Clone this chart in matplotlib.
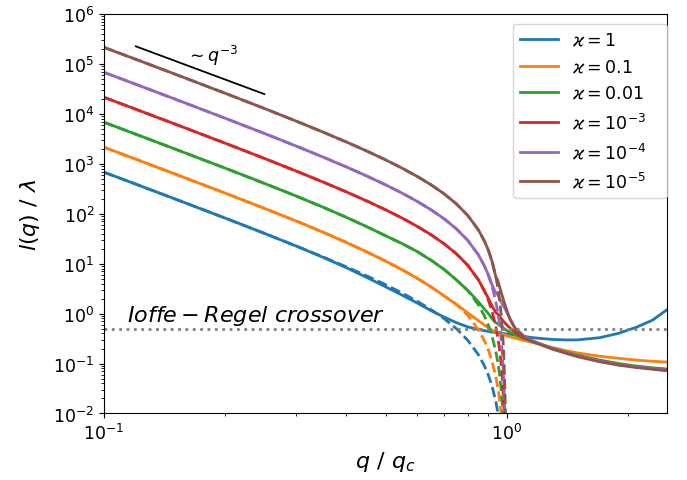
import matplotlib
matplotlib.use("Agg")
import matplotlib.pyplot as plt

# wavevector grid q / q_c for the full solution
q = [0.10, 0.12, 0.15, 0.20, 0.25, 0.30, 0.35, 0.40, 0.45, 0.50,
     0.55, 0.60, 0.65, 0.70, 0.75, 0.80, 0.85, 0.88, 0.90, 0.92,
     0.94, 0.95, 0.96, 0.97, 0.98, 0.99, 1.00, 1.02, 1.05, 1.10,
     1.15, 1.20, 1.30, 1.40, 1.50, 1.70, 1.90, 2.10, 2.30, 2.50]

# mean free path l(q)/lambda, full solution
l_k1 = [678.6, 390.7, 198.0, 81.7, 40.6, 22.5, 13.37, 8.28, 5.26, 3.45,
        2.34, 1.622, 1.135, 0.849, 0.658, 0.543, 0.481, 0.455, 0.441, 0.427,
        0.416, 0.413, 0.408, 0.404, 0.400, 0.395, 0.391, 0.384, 0.372, 0.351,
        0.333, 0.321, 0.304, 0.297, 0.298, 0.329, 0.405, 0.535, 0.738, 1.197]
l_k01 = [2146, 1235.6, 625.9, 258.4, 128.5, 71.6, 42.6, 26.55, 17.10, 11.27,
         7.55, 5.07, 3.39, 2.249, 1.521, 1.040, 0.724, 0.592, 0.525, 0.466,
         0.427, 0.419, 0.406, 0.394, 0.382, 0.372, 0.361, 0.344, 0.322, 0.292,
         0.269, 0.247, 0.209, 0.182, 0.163, 0.140, 0.127, 0.117, 0.111, 0.107]
l_k001 = [6786, 3907, 1979, 817.1, 406.4, 226.4, 134.9, 84.5, 54.7, 36.3,
          25.2, 17.38, 11.61, 7.59, 4.73, 2.917, 1.732, 1.236, 1.005, 0.790,
          0.651, 0.627, 0.585, 0.546, 0.514, 0.487, 0.461, 0.420, 0.374, 0.321,
          0.282, 0.251, 0.2025, 0.170, 0.1466, 0.1175, 0.100, 0.0891, 0.0824, 0.0776]
l_k1e3 = [21460, 12355, 6259, 2584, 1285, 716.4, 430.9, 272.9, 179.1, 120.2,
          81.7, 55.6, 37.6, 24.84, 15.74, 9.27, 4.776, 2.855, 2.035, 1.407,
          1.042, 0.986, 0.875, 0.787, 0.711, 0.651, 0.596, 0.510, 0.420, 0.333,
          0.281, 0.248, 0.197, 0.1646, 0.1407, 0.1122, 0.0955, 0.0855, 0.0790, 0.0741]
l_k1e4 = [67860, 39070, 19790, 8171, 4064, 2265, 1363, 863, 566, 380.2,
          258.4, 175.9, 118.9, 78.55, 49.77, 29.32, 15.10, 9.03, 6.02, 3.708,
          2.563, 2.381, 1.998, 1.700, 1.453, 1.259, 1.067, 0.772, 0.514, 0.364,
          0.2957, 0.2575, 0.1988, 0.1654, 0.1413, 0.1127, 0.0959, 0.0859, 0.0794, 0.0744]
l_k1e5 = [214600, 123550, 62590, 25840, 12850, 7164, 4309, 2729, 1791, 1202,
          817, 556.4, 375.9, 248.4, 157.4, 92.7, 47.76, 28.55, 18.65, 10.94,
          5.362, 4.67, 3.414, 2.563, 1.944, 1.508, 1.170, 0.755, 0.491, 0.3444,
          0.2824, 0.2470, 0.1934, 0.1609, 0.1369, 0.1087, 0.0924, 0.0831, 0.0769, 0.0717]

# grid for the approximate solution, which vanishes just below q_c
qd = [0.10, 0.12, 0.15, 0.20, 0.25, 0.30, 0.35, 0.40, 0.45, 0.50,
      0.55, 0.60, 0.65, 0.70, 0.75, 0.80, 0.85, 0.88, 0.90, 0.92,
      0.94, 0.95, 0.955, 0.96, 0.965, 0.97, 0.975, 0.98, 0.985, 0.99, 0.993]

ld_k1 = [678.6, 390.7, 198.0, 81.7, 40.6, 22.65, 13.62, 8.63, 5.66, 3.80,
         2.583, 1.759, 1.189, 0.785, 0.498, 0.293, 0.151, 0.0903, 0.0590, 0.0346,
         0.01696, 0.01062, 0.00805]
ld_k01 = [2146, 1235.6, 625.9, 258.4, 128.5, 71.6, 42.6, 26.55, 17.10, 11.27,
          7.55, 5.07, 3.39, 2.249, 1.53, 0.927, 0.4776, 0.2855, 0.1865, 0.1094,
          0.0536, 0.0336, 0.02545, 0.01856, 0.01287, 0.00835]
ld_k001 = [6786, 3907, 1979, 817.1, 406.4, 226.4, 134.9, 84.5, 54.7, 36.3,
           25.2, 17.38, 11.61, 7.59, 4.73, 2.917, 1.510, 0.903, 0.590, 0.346,
           0.1696, 0.1062, 0.0805, 0.0587, 0.0407, 0.0264, 0.01558, 0.00798]
ld_k1e3 = [21460, 12355, 6259, 2584, 1285, 716.4, 430.9, 272.9, 179.1, 120.2,
           81.7, 55.6, 37.6, 24.84, 15.74, 9.27, 4.776, 2.855, 1.865, 1.094,
           0.536, 0.336, 0.2545, 0.1856, 0.1287, 0.0835, 0.04927, 0.02525, 0.01026, 0.00268]
ld_k1e4 = [67860, 39070, 19790, 8171, 4064, 2265, 1363, 863, 566, 380.2,
           258.4, 175.9, 118.9, 78.55, 49.77, 29.32, 15.10, 9.03, 5.898, 3.459,
           1.696, 1.062, 0.805, 0.587, 0.407, 0.264, 0.1558, 0.0798, 0.03245, 0.00847]
ld_k1e5 = [214600, 123550, 62590, 25840, 12850, 7164, 4309, 2729, 1791, 1202,
           817, 556.4, 375.9, 248.4, 157.4, 92.7, 47.76, 28.55, 18.65, 10.94,
           5.362, 3.358, 2.545, 1.856, 1.287, 0.835, 0.4927, 0.2525, 0.1026, 0.02678, 0.00762]

labels = [r'$\varkappa = 1$', r'$\varkappa = 0.1$', r'$\varkappa = 0.01$',
          r'$\varkappa = 10^{-3}$', r'$\varkappa = 10^{-4}$', r'$\varkappa = 10^{-5}$']
colors = ['#1f77b4', '#ff7f0e', '#2ca02c', '#d62728', '#9467bd', '#8c564b']

solid = [l_k1, l_k01, l_k001, l_k1e3, l_k1e4, l_k1e5]
dashed = [ld_k1, ld_k01, ld_k001, ld_k1e3, ld_k1e4, ld_k1e5]

# power-law guide ~ q^-3
guide_q = [0.12, 0.25]
guide_l = [2.25e5, 2.49e4]

# Ioffe-Regel level
ir_level = 0.5

fig = plt.figure(figsize=(6.87, 4.81), dpi=100)
ax = fig.add_axes([0.1514, 0.1383, 0.8195, 0.8305])

for ls, ld, lab, c in zip(solid, dashed, labels, colors):
    ax.plot(q, ls, color=c, lw=2, label=lab)
    ax.plot(qd[:len(ld)], ld, color=c, lw=2, ls='--')

ax.axhline(ir_level, color='gray', ls=':', lw=2)
ax.plot(guide_q, guide_l, color='k', lw=1.3)
ax.text(0.160, 1.16e5, r'$\sim q^{-3}$', fontsize=12.5, ha='left', va='baseline')
ax.text(0.114, 0.71, r'$Ioffe - Regel\ crossover$', fontsize=16,
        ha='left', va='baseline')

ax.set_xscale('log')
ax.set_yscale('log')
ax.set_xlim(0.1, 2.5)
ax.set_ylim(1e-2, 1e6)
ax.set_yticks([10.0**k for k in range(-2, 7)])
ax.tick_params(labelsize=12.5)
ax.set_xlabel(r'$q\ /\ q_c$', fontsize=16)
ax.set_ylabel(r'$l(q)\ /\ \lambda$', fontsize=16, labelpad=8)

ax.legend(loc='upper left', bbox_to_anchor=(0.726, 0.975, 0.274, 0.0),
          mode='expand', borderaxespad=0, fontsize=12.5, handlelength=2.2)

fig.savefig('out.png', dpi=100)
